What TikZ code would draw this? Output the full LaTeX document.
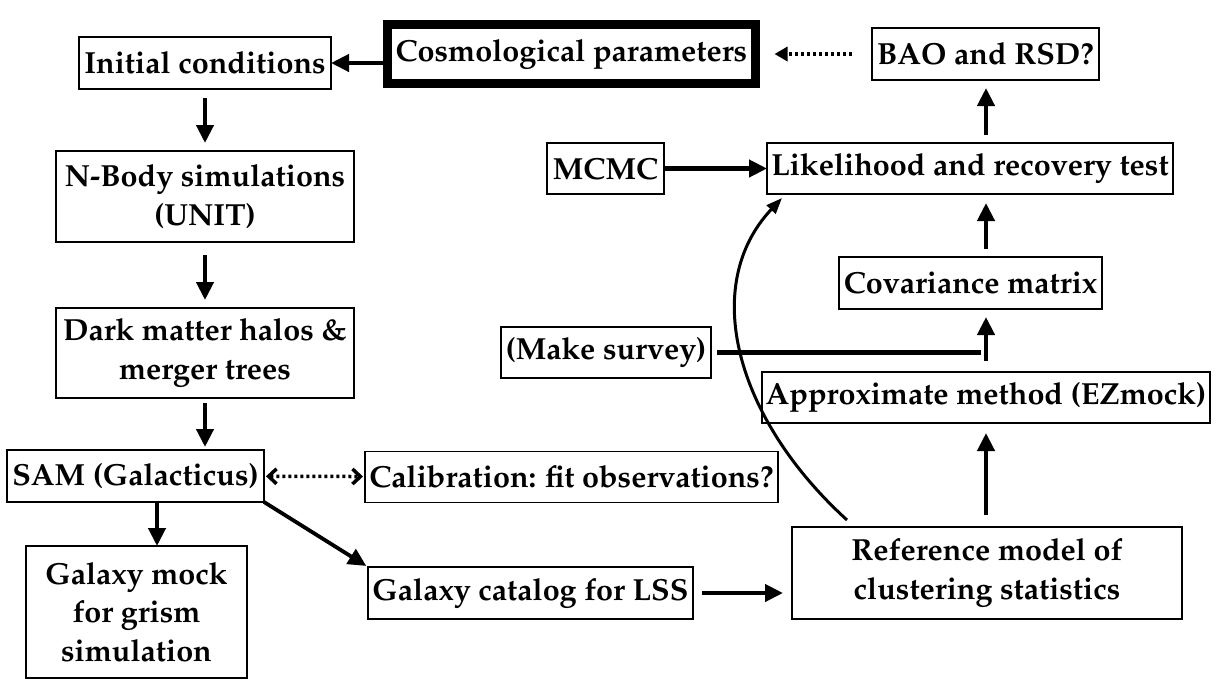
\documentclass[tikz,border=0pt]{standalone}
\usepackage[T1]{fontenc}
\usepackage{mathpazo}
\usetikzlibrary{arrows.meta,positioning}

\begin{document}
\begin{tikzpicture}[
                x=1pt, y=-1pt,
                font=\fontsize{30.5}{38.5}\selectfont\bfseries,
                FlowBlock/.style={draw, line width=1.3pt, align=center, inner sep=0pt, outer sep=0pt},
                FlowArrow/.style={line width=4.2pt, -{Triangle[length=18pt, width=17pt]}},
                DotArrow/.style={line width=3.5pt, dash pattern=on 3pt off 3pt},
            ]
            \useasboundingbox (0,0) rectangle (1216,686);
            % left column
            \node [FlowBlock, minimum width=252, minimum height=52] (ic) at (205,63) {Initial conditions};
            \node [FlowBlock, line width=9pt, minimum width=368, minimum height=59] (cosmo) at (571.5,54) {Cosmological parameters};
            \node [FlowBlock, minimum width=227, minimum height=52] (bao) at (985.5,54) {BAO and RSD?};
            \node [FlowBlock, minimum width=298, minimum height=91] (nbody) at (205,196.5) {N-Body simulations\\(UNIT)};
            \node [FlowBlock, minimum width=298, minimum height=90] (halos) at (205,353) {Dark matter halos \&\\merger trees};
            \node [FlowBlock, minimum width=257, minimum height=52] (sam) at (135.5,476) {SAM (Galacticus)};
            \node [FlowBlock, minimum width=221, minimum height=132] (mock) at (136.5,612) {Galaxy mock\\for grism\\simulation};
            % middle and right
            \node [FlowBlock, minimum width=413, minimum height=51] (calib) at (571.5,477) {Calibration: fit observations?};
            \node [FlowBlock, minimum width=325, minimum height=52] (cat) at (530.5,593) {Galaxy catalog for LSS};
            \node [FlowBlock, minimum width=390, minimum height=92] (ref) at (987,573) {Reference model of\\clustering statistics};
            \node [FlowBlock, minimum width=448, minimum height=51] (approx) at (986,397.5) {Approximate method (EZmock)};
            \node [FlowBlock, minimum width=210, minimum height=51] (survey) at (606,352.5) {(Make survey)};
            \node [FlowBlock, minimum width=263, minimum height=52] (cov) at (970.5,283) {Covariance matrix};
            \node [FlowBlock, minimum width=406, minimum height=51] (like) at (970,168.5) {Likelihood and recovery test};
            \node [FlowBlock, minimum width=117, minimum height=51] (mcmc) at (605.5,168.5) {MCMC};

            \draw [FlowArrow] (cosmo.west |- ic.east) -- (ic.east);
            \draw [FlowArrow, shorten <=9pt, shorten >=8pt] (ic) -- (nbody);
            \draw [FlowArrow, shorten <=13pt, shorten >=8pt] (nbody) -- (halos);
            \draw [FlowArrow, shorten <=5pt, shorten >=3pt] (halos) -- (halos |- sam.north);
            \draw [FlowArrow] (sam.south -| 157,0) -- (mock.north -| 157,0);
            \draw [DotArrow, {Straight Barb[length=8pt, width=15pt]}-{Straight Barb[length=8pt, width=15pt]}, shorten <=2pt, shorten >=2pt] (sam) -- (calib);
            \draw [FlowArrow, line width=3.8pt, shorten >=2pt] (sam.south east) -- (cat.north west);
            \draw [FlowArrow, shorten <=9pt, shorten >=9pt] (cat) -- (cat -| ref.west);
            \draw [FlowArrow, shorten <=12pt, shorten >=10pt] (ref.north -| approx) -- (approx.south);
            \draw [line width=4.2pt, shorten >=5pt] (survey.east) ++(6,0) -- (survey.east -| approx.north);
            \draw [FlowArrow, shorten <=11pt, shorten >=8pt] (approx.north) -- (approx.north |- cov.south);
            \draw [FlowArrow, shorten <=8pt, shorten >=9pt] (approx.north |- cov.north) -- (approx.north |- like.south);
            \draw [FlowArrow, shorten <=8pt, shorten >=8pt] (approx.north |- like.north) -- (approx.north |- bao.south);
            \draw [FlowArrow] (mcmc) -- (like);
            \draw [DotArrow, -{Triangle[length=13pt, width=14pt]}, shorten <=20pt, shorten >=19pt] (bao) -- (cosmo);
            \draw [line width=3pt, -{Triangle[length=16pt, width=12pt]}] ([xshift=55pt, yshift=7pt]ref.north west) .. controls (735,418) and (700,285) .. ([xshift=15pt, yshift=-4pt]like.south west);
\end{tikzpicture}
\end{document}
